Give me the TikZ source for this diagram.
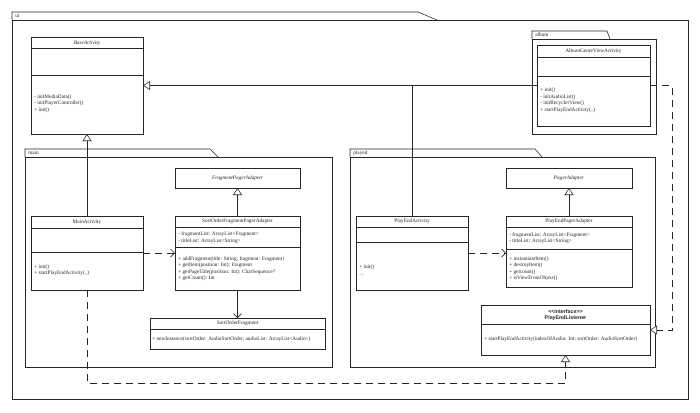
\documentclass[tikz,border=0pt]{standalone}
\usepackage{fontspec}
\setmainfont{Liberation Serif}
\newfontfamily\lsans{Liberation Sans}
\usetikzlibrary{arrows.meta}
\begin{document}
\begin{tikzpicture}[x=1pt,y=-1pt,
  line width=0.55pt, draw=black!85,
  cls/.style={draw=black!85, fill=white, anchor=north west, inner sep=0pt, outer sep=0pt},
  txt/.style={inner sep=0pt, anchor=west, align=left, font=\fontsize{5.3}{6.5}\selectfont, text=black!85},
  nm/.style={inner sep=0pt, anchor=center, font=\fontsize{5.3}{6.5}\selectfont, text=black!85},
  pkg/.style={draw=black!85},
  gen/.style={-{Triangle[open, length=7pt, width=9pt, fill=white]}},
  depline/.style={dash pattern=on 7pt off 5pt, -{Straight Barb[length=4pt, width=8pt]}},
  real/.style={dash pattern=on 7pt off 5pt, -{Triangle[open, length=7pt, width=9pt, fill=white]}},
  assoc/.style={-{Straight Barb[length=4pt, width=8pt]}}
]
\useasboundingbox (0,0) rectangle (700,412);
\fill[white] (0,0) rectangle (700,412);

% ---------- packages ----------
\draw[pkg] (12,20) -- (12,12) -- (418,12) -- (437,20);
\draw[pkg] (12,20) rectangle (688,399);
\node[txt] (lui) at (15,16) {ui};

\draw[pkg] (532,39) -- (532,31) -- (607,31) -- (610,39);
\draw[pkg] (532,39) rectangle (656,134);
\node[txt] (lalbum) at (535,35) {album};

\draw[pkg] (25,157) -- (25,149) -- (210,149) -- (218,157);
\draw[pkg] (25,157) rectangle (332,367);
\node[txt] (lmain) at (28,153) {main};

\draw[pkg] (350,157) -- (350,149) -- (535,149) -- (542,157);
\draw[pkg] (350,157) rectangle (655,367);
\node[txt] (lplayed) at (353,153) {played};

% ---------- BaseActivity ----------
\node[cls, minimum width=112pt, minimum height=97pt] (ba) at (31,37) {};
\draw (31,48) -- (143,48);
\draw (31,75) -- (143,75);
\node[nm] (ban) at (87,43) {\itshape BaseActivity};
\node[txt] (bao) at (34,103.7) {- initMediaData()\\- initPlayerController()\\+ init()};

% ---------- AlbumGenreViewActivity ----------
\node[cls, minimum width=113pt, minimum height=81pt] (agva) at (537,45) {};
\draw (537,57) -- (650,57);
\draw (537,76) -- (650,76);
\node[nm] (agvan) at (593.5,51) {AlbumGenreViewActivity};
\node[txt] (agvao) at (540,100) {+ init()\\- initAudioList()\\- initRecyclerView()\\+ startPlayEndActivity(..)};

% ---------- FragmentPagerAdapter ----------
\node[cls, minimum width=125pt, minimum height=20pt] (fpa) at (175,168) {};
\node[nm] (fpan) at (237.5,178) {\itshape FragmentPagerAdapter};

% ---------- MainActivity ----------
\node[cls, minimum width=112pt, minimum height=74pt] (ma) at (31,216) {};
\draw (31,228) -- (143,228);
\draw (31,252) -- (143,252);
\node[nm] (man) at (87,222) {MainActivity};
\node[txt] (mao) at (34,270) {+ init()\\+ startPlayEndActivity(..)};

% ---------- SortOrderFragmentPagerAdapter ----------
\node[cls, minimum width=125pt, minimum height=74pt] (sofpa) at (175,216) {};
\draw (175,227) -- (300,227);
\draw (175,247) -- (300,247);
\node[nm] (sofpan) at (237.5,221.5) {SortOrderFragmentPagerAdapter};
\node[txt] (sofpaa) at (178,237.5) {- fragmentList: ArrayList<Fragment>\\- titleList: ArrayList<String>};
\node[txt] (sofpao) at (178,268.5) {+ addFragment(title: String; fragment: Fragment)\\+ getItem(position: Int): Fragment\\+ getPageTitle(position: Int): CharSequence?\\+ getCount(): Int};

% ---------- SortOrderFragment ----------
\node[cls, minimum width=175pt, minimum height=31pt] (sof) at (150,318) {};
\draw (150,329) -- (325,329);
\node[nm] (sofn) at (237.5,323.5) {SortOrderFragment};
\node[txt] (sofo) at (152,339) {+ newInstance(sortOrder: AudioSortOrder; audioList: ArrayList<Audio>)};

% ---------- PagerAdapter ----------
\node[cls, minimum width=126pt, minimum height=20pt] (pa) at (506,168) {};
\node[nm] (pan) at (569,178) {\itshape PagerAdapter};

% ---------- PlayEndActivity ----------
\node[cls, minimum width=112pt, minimum height=74pt] (pea) at (356,216) {};
\draw (356,227) -- (468,227);
\draw (356,242) -- (468,242);
\node[nm] (pean) at (412,221.5) {PlayEndActivity};
\node[txt] (peao) at (359,270) {+ init()\\...};

% ---------- PlayEndPagerAdapter ----------
\node[cls, minimum width=126pt, minimum height=71pt] (pepa) at (506,216) {};
\draw (506,227) -- (632,227);
\draw (506,249) -- (632,249);
\node[nm] (pepan) at (569,221.5) {PlayEndPagerAdapter};
\node[txt] (pepaa) at (509,238) {- fragmentList: ArrayList<Fragment>\\- titleList: ArrayList<String>};
\node[txt] (pepao) at (509,268.5) {+ instantiateItem()\\+ destroyItem()\\+ getcount()\\+ isViewFromObject()};

% ---------- PlayEndListener ----------
\node[cls, minimum width=169pt, minimum height=50pt] (pel) at (481,305) {};
\draw (481,324) -- (650,324);
\node[nm, font=\lsans\bfseries\fontsize{5.3}{6.5}\selectfont] (peln1) at (565.5,312) {<<interface>>};
\node[nm, font=\lsans\bfseries\fontsize{5.3}{6.5}\selectfont] (peln2) at (565.5,318.5) {PlayEndListener};
\node[txt] (pelo) at (484,339) {+ startPlayEndActivity(indexOfAudio: Int; sortOrder: AudioSortOrder)};

% ---------- connectors ----------
\coordinate (j1) at (pea.north |- ba.east);
\draw (pea.north) -- (j1);
\draw[gen] (agva.west) -- (ba.east);
\draw[gen] (ma.north) -- (ma.north |- ba.south);
\draw[gen] (sofpa.north) -- (sofpa.north |- fpa.south);
\draw[gen] (pepa.north) -- (pepa.north |- pa.south);
\draw[depline] (ma.east) -- (sofpa.west);
\draw[depline] (pea.east) -- (pea.east -| pepa.west);
\draw[assoc] (sofpa.south) -- (sofpa.south |- sof.north);
\coordinate (c1) at (87,383);
\coordinate (c2) at (565.5,383);
\draw[real] (ma.south) -- (c1) -- (c2) -- (pel.south);
\coordinate (d1) at (672,85.5);
\coordinate (d2) at (672,330);
\draw[real] (agva.east) -- (d1) -- (d2) -- (pel.east);
\end{tikzpicture}
\end{document}
